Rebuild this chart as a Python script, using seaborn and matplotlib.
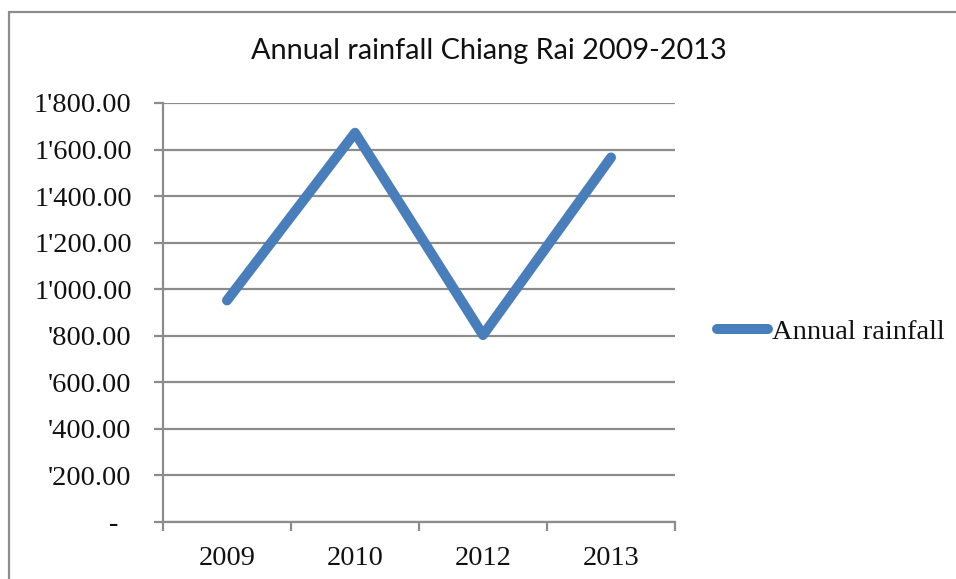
import matplotlib
matplotlib.use("Agg")
import matplotlib.pyplot as plt
import matplotlib.transforms as mtransforms
from matplotlib.patches import Rectangle
import seaborn as sns
import pandas as pd

years = ["2009", "2010", "2012", "2013"]
rainfall = [952, 1672, 803, 1566]
series_name = "Annual rainfall"
title = "Annual rainfall Chiang Rai 2009-2013"
y_ticks = [0, 200, 400, 600, 800, 1000, 1200, 1400, 1600, 1800]
y_tick_labels = ["-", "'200.00", "'400.00", "'600.00", "'800.00",
                 "1'000.00", "1'200.00", "1'400.00", "1'600.00", "1'800.00"]

sns.set_theme(style="white")
plt.rcParams["font.family"] = ["Liberation Serif", "DejaVu Serif"]

W, H = 956, 579
fig = plt.figure(figsize=(W / 100, H / 100), dpi=100)
ax = fig.add_axes([163 / W, (H - 522) / H, (675 - 163) / W, (522 - 103) / H])

df = pd.DataFrame({"Year": years, "Rainfall": rainfall, "Series": series_name})
blue = "#4A7EBB"
sns.lineplot(data=df, x="Year", y="Rainfall", ax=ax, color=blue, linewidth=7.2,
             solid_capstyle="round", solid_joinstyle="round", label=series_name,
             sort=False)

ax.set_xlim(-0.5, len(years) - 0.5)
ax.set_ylim(0, 1800)
ax.set_yticks(y_ticks)
ax.set_yticklabels(y_tick_labels)
ax.set_xlabel("")
ax.set_ylabel("")

fs = 20.5
grid_color = "#8C8C8C"
ax.grid(axis="y", color=grid_color, linewidth=1.6)
ax.grid(axis="x", visible=False)
ax.set_axisbelow(True)
for s in ["top", "right"]:
    ax.spines[s].set_visible(False)
for s in ["left", "bottom"]:
    ax.spines[s].set_color(grid_color)
    ax.spines[s].set_linewidth(1.6)

# category boundary ticks on x axis
ax.set_xticks([i for i in range(len(years))])
ax.set_xticklabels(years)
ax.set_xticks([i - 0.5 for i in range(len(years) + 1)], minor=True)
ax.tick_params(axis="x", which="major", length=0, pad=17, labelsize=fs, labelcolor="#111111")
ax.tick_params(axis="x", which="minor", length=6.5, width=1.6, color=grid_color, direction="out")
ax.tick_params(axis="y", which="major", length=6.5, width=1.6, color=grid_color, direction="out",
               pad=16, labelsize=fs, labelcolor="#111111")
ax.yaxis.set_tick_params(left=True)
ax.xaxis.set_tick_params(bottom=True, which="minor")

# shift the "-" zero label leftwards like Excel accounting format
zero_lbl = ax.get_yticklabels()[0]
zero_lbl.set_transform(zero_lbl.get_transform() +
                       mtransforms.ScaledTranslation(-13 / 100, 0, fig.dpi_scale_trans))

fig.text(489 / W, 1 - 51 / H, title, ha="center", va="center", fontsize=20.8,
         family=["Lato", "DejaVu Sans"], color="#111111")

leg = ax.legend(loc="center left", bbox_to_anchor=(716.5 / W, 1 - 332 / H),
                bbox_transform=fig.transFigure, frameon=False, fontsize=fs,
                handlelength=1.8, handletextpad=0.15, borderpad=0, borderaxespad=0)
for t in leg.get_texts():
    t.set_color("#111111")
for l in leg.get_lines():
    l.set_solid_capstyle("round")
    l.set_linewidth(7.2)

# outer chart-area frame (partially cut off)
fig.add_artist(Rectangle((9 / W, -0.1), 1.2, 1 - 12.5 / H + 0.1, transform=fig.transFigure,
                         fill=False, edgecolor="#8C8C8C", linewidth=1.6))

fig.savefig("out.png", dpi=100)
